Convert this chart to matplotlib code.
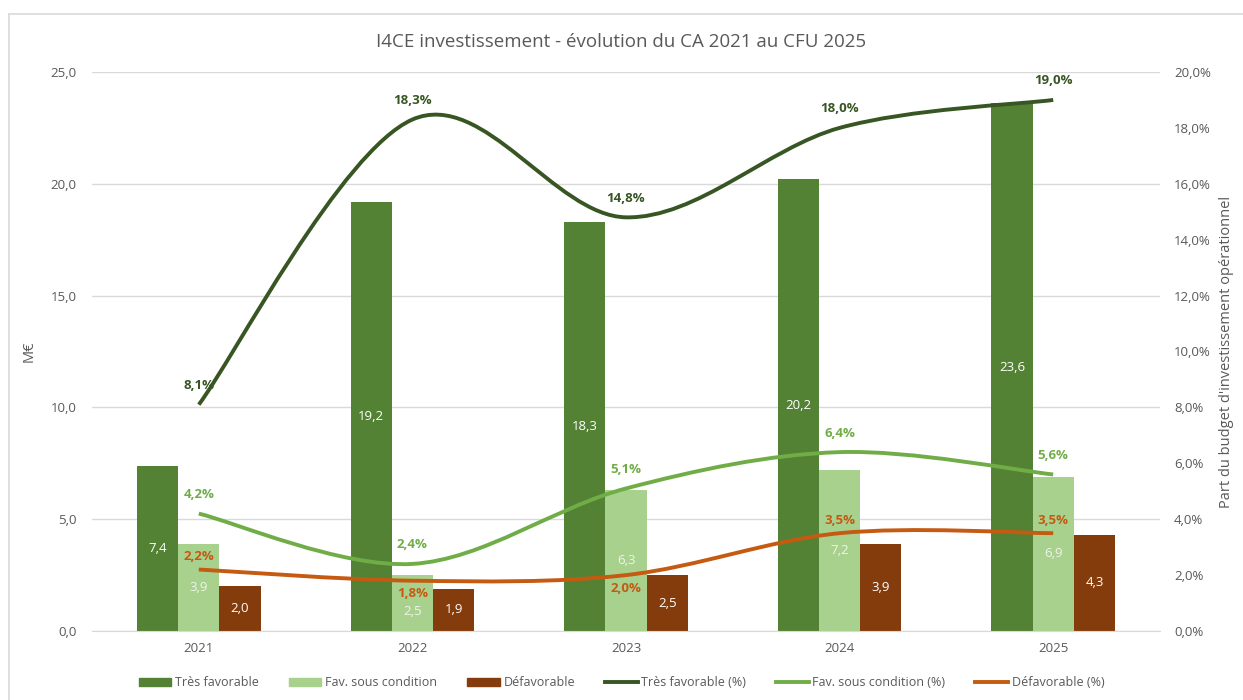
import numpy as np
import matplotlib.pyplot as plt
from matplotlib.path import Path
from matplotlib.patches import PathPatch, Patch
from matplotlib.lines import Line2D

plt.rcParams['font.family'] = ['Open Sans', 'DejaVu Sans']

# data
years = ['2021', '2022', '2023', '2024', '2025']
tres_fav = [7.4, 19.2, 18.3, 20.2, 23.6]
fav_cond = [3.9, 2.5, 6.3, 7.2, 6.9]
defav = [2.0, 1.9, 2.5, 3.9, 4.3]
tres_fav_pct = [8.1, 18.3, 14.8, 18.0, 19.0]
fav_cond_pct = [4.2, 2.4, 5.1, 6.4, 5.6]
defav_pct = [2.2, 1.8, 2.0, 3.5, 3.5]
defav_label_side = [1, -1, -1, 1, 1]  # 1 = above, -1 = below

c_dark, c_light, c_brown = '#548235', '#A9D18E', '#843C0C'
c_ldark, c_llight, c_lorange = '#375623', '#70AD47', '#C55A11'
grey = '#595959'


def fr(v, fmt='{:.1f}'):
    return fmt.format(v).replace('.', ',')


def smooth_path(xs, ys):
    # excel-like smoothed line as cubic bezier segments (catmull-rom control points)
    pts = np.column_stack([xs, ys]).astype(float)
    ext = np.vstack([pts[0], pts, pts[-1]])
    verts = [pts[0]]
    codes = [Path.MOVETO]
    for i in range(len(pts) - 1):
        p0, p1, p2, p3 = ext[i], ext[i + 1], ext[i + 2], ext[i + 3]
        verts += [p1 + (p2 - p0) / 6, p2 - (p3 - p1) / 6, p2]
        codes += [Path.CURVE4] * 3
    return Path(verts, codes)


fig = plt.figure(figsize=(12.43, 7), dpi=100)
ax = fig.add_axes([92 / 1243, 1 - 631 / 700, (1160 - 92) / 1243, (631 - 72) / 700])
ax2 = ax.twinx()

# chart frame
fig.add_artist(Line2D([9 / 1243, 1], [1 - 14 / 700] * 2, color='#D9D9D9', lw=1.2, transform=fig.transFigure))
fig.add_artist(Line2D([9 / 1243] * 2, [0, 1 - 14 / 700], color='#D9D9D9', lw=1.2, transform=fig.transFigure))

x = np.arange(len(years))
w = 0.193
series = [(tres_fav, c_dark, 'white', -w), (fav_cond, c_light, '#EEF5E8', 0), (defav, c_brown, 'white', w)]
for vals, col, tcol, off in series:
    bars = ax.bar(x + off, vals, w, color=col, zorder=2)
    for b, v in zip(bars, vals):
        # short bars: push the label towards the base so it clears the line labels
        dy = -8 if v < 3 and col == c_light else 0
        ax.annotate(fr(v), (b.get_x() + b.get_width() / 2, v / 2), xytext=(0, dy),
                    textcoords='offset pixels', ha='center', va='center',
                    color=tcol, fontsize=9.5, zorder=3)

ax.set_xlim(-0.5, len(years) - 0.5)
ax.set_ylim(0, 25)
ax.set_yticks(np.arange(0, 25.1, 5))
ax.set_yticklabels([fr(t) for t in np.arange(0, 25.1, 5)])
ax.set_xticks(x)
ax.set_xticklabels(years)
ax.yaxis.grid(True, color='#D9D9D9', lw=1)
ax.set_axisbelow(True)
ax.set_ylabel('M€', color=grey, fontsize=10.5, labelpad=10)

ax2.set_ylim(0, 20)
ax2.set_yticks(np.arange(0, 20.1, 2))
ax2.set_yticklabels([fr(t) + '%' for t in np.arange(0, 20.1, 2)])
ax2.set_ylabel("Part du budget d'investissement opérationnel", color=grey, fontsize=10.5, labelpad=6)

for a in (ax, ax2):
    for s in a.spines.values():
        s.set_visible(False)
    a.tick_params(length=0, colors=grey, labelsize=9.5)
ax.spines['bottom'].set_visible(True)
ax.spines['bottom'].set_color('#D9D9D9')
ax.tick_params(axis='x', pad=8)
ax.tick_params(axis='y', pad=11)
ax2.tick_params(axis='y', pad=10)

lines = [(tres_fav_pct, c_ldark, [1] * 5, 19), (fav_cond_pct, c_llight, [1] * 5, 19),
         (defav_pct, c_lorange, defav_label_side, 13)]
for vals, col, sides, off in lines:
    ax2.add_patch(PathPatch(smooth_path(x, vals), facecolor='none', edgecolor=col, lw=2.8,
                            capstyle='butt', zorder=4))
    for xi, v, s in zip(x, vals, sides):
        ax2.annotate(fr(v) + '%', (xi, v), xytext=(0, s * off), textcoords='offset pixels',
                     ha='center', va='center', color=col, fontsize=9.5, fontweight='bold', zorder=5)

fig.text(0.5, 1 - 42 / 700, 'I4CE investissement - évolution du CA 2021 au CFU 2025',
         ha='center', va='center', fontsize=13.5, color=grey)

handles = [Patch(color=c_dark), Patch(color=c_light), Patch(color=c_brown),
           Line2D([], [], color=c_ldark, lw=2.8), Line2D([], [], color=c_llight, lw=2.8),
           Line2D([], [], color=c_lorange, lw=2.8)]
labels = ['Très favorable', 'Fav. sous condition', 'Défavorable',
          'Très favorable (%)', 'Fav. sous condition (%)', 'Défavorable (%)']
fig.legend(handles, labels, loc='center', bbox_to_anchor=(0.5, 1 - 683 / 700), ncol=6,
           frameon=False, fontsize=9, handlelength=2.6, handleheight=0.6, columnspacing=2.4,
           handletextpad=0.3, labelcolor=grey)

fig.savefig('out.png', dpi=100)
